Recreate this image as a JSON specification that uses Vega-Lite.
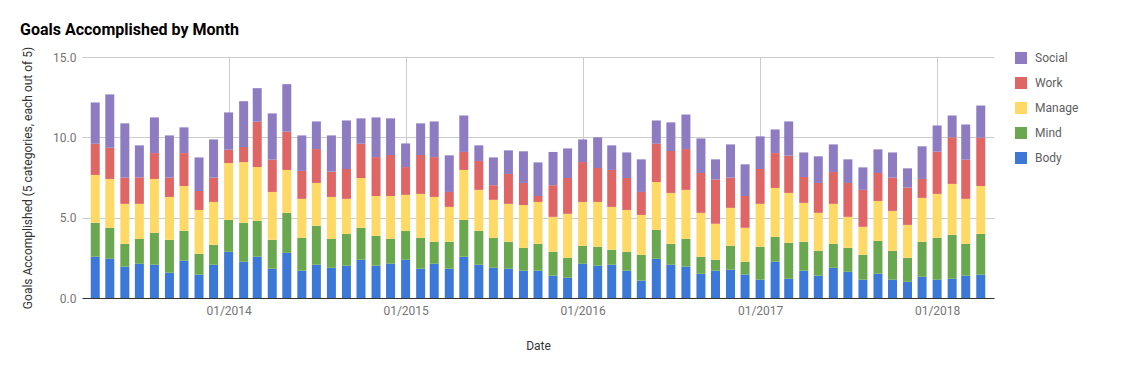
{
  "$schema": "https://vega.github.io/schema/vega-lite/v6.json",
  "autosize": "none",
  "width": 912,
  "height": 241,
  "padding": {"left": 82, "top": 57, "right": 128, "bottom": 73},
  "background": "white",
  "config": {
    "font": "Roboto",
    "view": {"stroke": null}
  },
  "title": {
    "text": "Goals Accomplished by Month",
    "anchor": "start",
    "frame": "group",
    "dx": -62,
    "dy": 22,
    "fontSize": 16,
    "fontWeight": "bold",
    "color": "#000000",
    "baseline": "alphabetic",
    "offset": 17
  },
  "data": {
    "values": [
      {"date": "2013-04-01", "Body": 2.57, "Mind": 2.11, "Manage": 2.98, "Work": 1.94, "Social": 2.57},
      {"date": "2013-05-01", "Body": 2.44, "Mind": 1.93, "Manage": 3.04, "Work": 1.94, "Social": 3.32},
      {"date": "2013-06-01", "Body": 1.95, "Mind": 1.42, "Manage": 2.49, "Work": 1.63, "Social": 3.38},
      {"date": "2013-07-01", "Body": 2.13, "Mind": 1.55, "Manage": 2.18, "Work": 1.65, "Social": 1.99},
      {"date": "2013-08-01", "Body": 2.07, "Mind": 1.99, "Manage": 3.35, "Work": 1.61, "Social": 2.22},
      {"date": "2013-09-01", "Body": 1.57, "Mind": 2.05, "Manage": 2.67, "Work": 1.20, "Social": 2.63},
      {"date": "2013-10-01", "Body": 2.32, "Mind": 1.86, "Manage": 2.79, "Work": 2.05, "Social": 1.60},
      {"date": "2013-11-01", "Body": 1.45, "Mind": 1.30, "Manage": 2.73, "Work": 1.18, "Social": 2.09},
      {"date": "2013-12-01", "Body": 2.07, "Mind": 1.24, "Manage": 2.67, "Work": 1.51, "Social": 2.38},
      {"date": "2014-01-01", "Body": 2.88, "Mind": 1.98, "Manage": 3.54, "Work": 0.83, "Social": 2.32},
      {"date": "2014-02-01", "Body": 2.26, "Mind": 2.42, "Manage": 3.78, "Work": 0.94, "Social": 2.85},
      {"date": "2014-03-01", "Body": 2.57, "Mind": 2.23, "Manage": 3.35, "Work": 2.82, "Social": 2.09},
      {"date": "2014-04-01", "Body": 1.82, "Mind": 1.80, "Manage": 2.98, "Work": 2.01, "Social": 2.88},
      {"date": "2014-05-01", "Body": 2.81, "Mind": 2.49, "Manage": 2.67, "Work": 2.38, "Social": 2.96},
      {"date": "2014-06-01", "Body": 1.70, "Mind": 2.05, "Manage": 2.42, "Work": 1.74, "Social": 2.21},
      {"date": "2014-07-01", "Body": 2.07, "Mind": 2.42, "Manage": 2.67, "Work": 2.11, "Social": 1.72},
      {"date": "2014-08-01", "Body": 1.88, "Mind": 1.80, "Manage": 2.61, "Work": 1.57, "Social": 2.26},
      {"date": "2014-09-01", "Body": 2.01, "Mind": 1.98, "Manage": 2.18, "Work": 1.86, "Social": 3.02},
      {"date": "2014-10-01", "Body": 2.38, "Mind": 1.99, "Manage": 3.10, "Work": 2.13, "Social": 1.58},
      {"date": "2014-11-01", "Body": 2.01, "Mind": 1.86, "Manage": 2.48, "Work": 2.42, "Social": 2.47},
      {"date": "2014-12-01", "Body": 2.13, "Mind": 1.55, "Manage": 2.67, "Work": 2.55, "Social": 2.28},
      {"date": "2015-01-01", "Body": 2.38, "Mind": 1.80, "Manage": 2.24, "Work": 1.73, "Social": 1.47},
      {"date": "2015-02-01", "Body": 1.82, "Mind": 1.93, "Manage": 2.73, "Work": 2.42, "Social": 1.97},
      {"date": "2015-03-01", "Body": 2.13, "Mind": 1.37, "Manage": 2.79, "Work": 2.48, "Social": 2.22},
      {"date": "2015-04-01", "Body": 1.82, "Mind": 1.68, "Manage": 2.17, "Work": 0.93, "Social": 2.28},
      {"date": "2015-05-01", "Body": 2.57, "Mind": 2.29, "Manage": 3.11, "Work": 1.12, "Social": 2.27},
      {"date": "2015-06-01", "Body": 2.07, "Mind": 2.11, "Manage": 2.55, "Work": 1.80, "Social": 0.97},
      {"date": "2015-07-01", "Body": 1.88, "Mind": 1.87, "Manage": 2.36, "Work": 0.91, "Social": 1.73},
      {"date": "2015-08-01", "Body": 1.82, "Mind": 1.68, "Manage": 2.36, "Work": 1.86, "Social": 1.47},
      {"date": "2015-09-01", "Body": 1.70, "Mind": 1.42, "Manage": 2.67, "Work": 1.37, "Social": 1.97},
      {"date": "2015-10-01", "Body": 1.70, "Mind": 1.67, "Manage": 2.61, "Work": 0.37, "Social": 2.09},
      {"date": "2015-11-01", "Body": 1.39, "Mind": 1.49, "Manage": 2.17, "Work": 1.97, "Social": 2.07},
      {"date": "2015-12-01", "Body": 1.26, "Mind": 1.24, "Manage": 2.74, "Work": 2.23, "Social": 1.84},
      {"date": "2016-01-01", "Body": 2.13, "Mind": 1.12, "Manage": 2.73, "Work": 2.48, "Social": 1.41},
      {"date": "2016-02-01", "Body": 2.01, "Mind": 1.18, "Manage": 2.79, "Work": 2.11, "Social": 1.91},
      {"date": "2016-03-01", "Body": 2.07, "Mind": 0.93, "Manage": 2.67, "Work": 2.30, "Social": 1.53},
      {"date": "2016-04-01", "Body": 1.70, "Mind": 1.18, "Manage": 2.60, "Work": 1.99, "Social": 1.59},
      {"date": "2016-05-01", "Body": 1.08, "Mind": 1.61, "Manage": 2.48, "Work": 1.43, "Social": 2.03},
      {"date": "2016-06-01", "Body": 2.44, "Mind": 1.80, "Manage": 2.98, "Work": 2.38, "Social": 1.45},
      {"date": "2016-07-01", "Body": 2.07, "Mind": 1.30, "Manage": 3.17, "Work": 2.61, "Social": 1.78},
      {"date": "2016-08-01", "Body": 1.95, "Mind": 1.73, "Manage": 3.05, "Work": 2.54, "Social": 2.15},
      {"date": "2016-09-01", "Body": 1.51, "Mind": 1.06, "Manage": 2.73, "Work": 2.48, "Social": 2.15},
      {"date": "2016-10-01", "Body": 1.70, "Mind": 0.68, "Manage": 2.24, "Work": 2.75, "Social": 1.26},
      {"date": "2016-11-01", "Body": 1.76, "Mind": 1.49, "Manage": 2.36, "Work": 1.88, "Social": 2.07},
      {"date": "2016-12-01", "Body": 1.45, "Mind": 0.81, "Manage": 2.11, "Work": 1.98, "Social": 1.97},
      {"date": "2017-01-01", "Body": 1.14, "Mind": 2.05, "Manage": 2.67, "Work": 2.17, "Social": 2.03},
      {"date": "2017-02-01", "Body": 2.26, "Mind": 1.55, "Manage": 3.04, "Work": 2.17, "Social": 1.47},
      {"date": "2017-03-01", "Body": 1.20, "Mind": 2.24, "Manage": 3.10, "Work": 2.32, "Social": 2.13},
      {"date": "2017-04-01", "Body": 1.70, "Mind": 1.80, "Manage": 2.42, "Work": 1.61, "Social": 1.53},
      {"date": "2017-05-01", "Body": 1.39, "Mind": 1.55, "Manage": 2.36, "Work": 1.86, "Social": 1.66},
      {"date": "2017-06-01", "Body": 1.88, "Mind": 1.49, "Manage": 2.49, "Work": 1.98, "Social": 1.72},
      {"date": "2017-07-01", "Body": 1.63, "Mind": 1.49, "Manage": 1.93, "Work": 2.11, "Social": 1.47},
      {"date": "2017-08-01", "Body": 1.14, "Mind": 1.55, "Manage": 1.74, "Work": 2.30, "Social": 1.40},
      {"date": "2017-09-01", "Body": 1.51, "Mind": 2.05, "Manage": 2.48, "Work": 1.74, "Social": 1.47},
      {"date": "2017-10-01", "Body": 1.14, "Mind": 1.80, "Manage": 2.48, "Work": 2.07, "Social": 1.57},
      {"date": "2017-11-01", "Body": 1.01, "Mind": 1.49, "Manage": 2.05, "Work": 2.32, "Social": 1.20},
      {"date": "2017-12-01", "Body": 1.32, "Mind": 2.18, "Manage": 2.73, "Work": 1.18, "Social": 2.03},
      {"date": "2018-01-01", "Body": 1.14, "Mind": 2.61, "Manage": 2.73, "Work": 2.63, "Social": 1.63},
      {"date": "2018-02-01", "Body": 1.20, "Mind": 2.73, "Manage": 3.17, "Work": 2.90, "Social": 1.36},
      {"date": "2018-03-01", "Body": 1.39, "Mind": 1.98, "Manage": 2.80, "Work": 2.44, "Social": 2.19},
      {"date": "2018-04-01", "Body": 1.45, "Mind": 2.54, "Manage": 2.98, "Work": 3.01, "Social": 2.00}
    ]
  },
  "transform": [
    {"fold": ["Body", "Mind", "Manage", "Work", "Social"], "as": ["category", "value"]},
    {"window": [{"op": "row_number", "as": "stack_rank"}], "groupby": ["date"]}
  ],
  "mark": {"type": "bar", "width": 9},
  "encoding": {
    "x": {
      "field": "date",
      "type": "temporal",
      "scale": {
        "type": "utc",
        "domain": [
          {"year": 2013, "month": 3, "date": 15, "utc": true},
          {"year": 2018, "month": 4, "date": 18, "utc": true}
        ]
      },
      "axis": {
        "title": "Date",
        "format": "%m/%Y",
        "values": [
          {"year": 2014, "month": 1, "date": 1, "utc": true},
          {"year": 2015, "month": 1, "date": 1, "utc": true},
          {"year": 2016, "month": 1, "date": 1, "utc": true},
          {"year": 2017, "month": 1, "date": 1, "utc": true},
          {"year": 2018, "month": 1, "date": 1, "utc": true}
        ],
        "grid": true,
        "gridColor": "#cccccc",
        "ticks": false,
        "domainColor": "#333333",
        "domainWidth": 1,
        "labelColor": "#757575",
        "labelFontSize": 12,
        "labelPadding": 7,
        "labelFlush": false,
        "titleColor": "#333333",
        "titleFontSize": 12,
        "titleFontWeight": "normal",
        "titlePadding": 24
      }
    },
    "y": {
      "field": "value",
      "type": "quantitative",
      "stack": "zero",
      "scale": {"domain": [0, 15], "nice": false},
      "axis": {
        "title": "Goals Accomplished (5 categories, each out of 5)",
        "values": [0, 5, 10, 15],
        "format": ".1f",
        "grid": true,
        "gridColor": "#cccccc",
        "domain": false,
        "ticks": false,
        "labelColor": "#757575",
        "labelFontSize": 12,
        "labelPadding": 6,
        "titleColor": "#333333",
        "titleFontSize": 12,
        "titleFontWeight": "normal",
        "titlePadding": 18
      }
    },
    "color": {
      "field": "category",
      "type": "nominal",
      "sort": ["Social", "Work", "Manage", "Mind", "Body"],
      "scale": {
        "range": ["#8e7cc3", "#e06666", "#ffd966", "#6aa84f", "#3c78d8"]
      },
      "legend": {
        "title": null,
        "orient": "none",
        "legendX": 933,
        "legendY": -5,
        "padding": 0,
        "symbolType": "square",
        "symbolSize": 144,
        "symbolStrokeWidth": 0,
        "symbolOpacity": 1,
        "labelFontSize": 12,
        "labelColor": "#616161",
        "labelOffset": 8,
        "rowPadding": 13
      }
    },
    "order": {"field": "stack_rank", "type": "quantitative", "sort": "ascending"}
  }
}
